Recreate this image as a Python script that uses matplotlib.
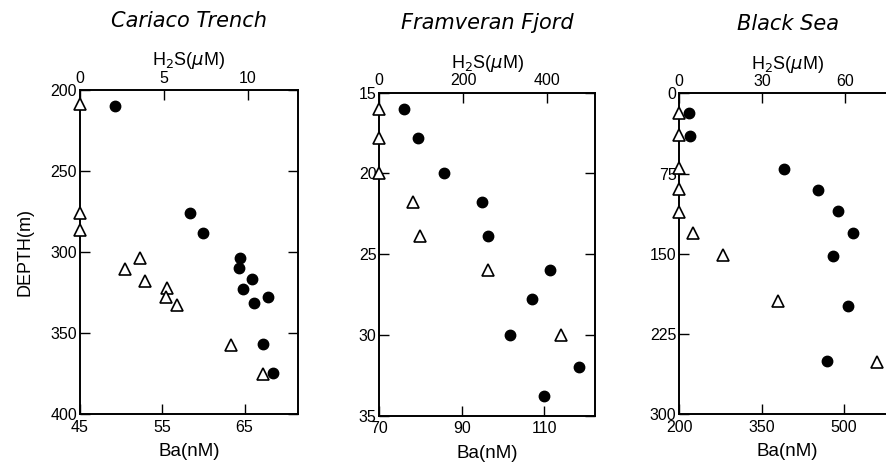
import matplotlib
matplotlib.use('Agg')
import matplotlib.pyplot as plt

plt.rcParams['font.family'] = ['Liberation Sans', 'DejaVu Sans']

######    data
titles = ['Cariaco Trench', 'Framveran Fjord', 'Black Sea']

# Cariaco Trench
cariaco_ba_depth = [210, 276, 288.5, 303.5, 310, 316.7, 322.8, 327.6, 331.7, 356.8, 374.9]
cariaco_ba = [49.3, 58.4, 59.9, 64.4, 64.3, 65.9, 64.8, 67.8, 66.1, 67.3, 68.4]
cariaco_h2s_depth = [209, 276, 286.5, 303.5, 310.5, 318, 322, 327.6, 332.7, 357.4, 375]
cariaco_h2s = [0, 0, 0, 3.6, 2.7, 3.9, 5.2, 5.1, 5.8, 9.0, 10.9]

# Framveran Fjord
fjord_ba_depth = [16, 17.8, 20, 21.8, 23.9, 26, 27.8, 30, 32, 33.8]
fjord_ba = [76.1, 79.3, 85.8, 95.0, 96.3, 111.3, 107.0, 101.8, 118.3, 109.9]
fjord_h2s_depth = [16, 17.8, 20, 21.8, 23.9, 26, 30]
fjord_h2s = [0, 0, 0, 81, 97, 259, 434]

# Black Sea
black_ba_depth = [18.7, 39.6, 70.7, 90.4, 109.7, 130.8, 151.8, 198.5, 250]
black_ba = [217.7, 219, 391, 452, 489.6, 517, 480.5, 507.8, 469.6]
black_h2s_depth = [18.7, 39, 70, 89.4, 110.6, 130.8, 151, 194, 250.8]
black_h2s = [0, 0, 0, 0, 0, 4.9, 15.9, 35.9, 71.7]

ba_ticks = [[45, 55, 65], [70, 90, 110], [200, 350, 500]]
h2s_ticks = [[0, 5, 10], [0, 200, 400], [0, 30, 60]]
depth_ticks = [[200, 250, 300, 350, 400], [15, 20, 25, 30, 35], [0, 75, 150, 225, 300]]

ba_lim = [(45, 71.5), (70, 122.3), (200, 595)]
h2s_lim = [(0, 13), (0, 515), (0, 78.5)]
depth_lim = [(400, 200), (35, 15), (300, 0)]

ba_data = [(cariaco_ba, cariaco_ba_depth), (fjord_ba, fjord_ba_depth), (black_ba, black_ba_depth)]
h2s_data = [(cariaco_h2s, cariaco_h2s_depth), (fjord_h2s, fjord_h2s_depth), (black_h2s, black_h2s_depth)]

boxes = [[0.0902, 0.1058, 0.2458, 0.700],
         [0.4276, 0.1020, 0.2432, 0.698],
         [0.7658, 0.1052, 0.2445, 0.693]]

fig = plt.figure(figsize=(8.87, 4.63), dpi=100)

for i in range(3):
    ax = fig.add_axes(boxes[i])
    ax.set_xlim(*ba_lim[i])
    ax.set_ylim(*depth_lim[i])
    ax.set_xticks(ba_ticks[i])
    ax.set_yticks(depth_ticks[i])
    ax.tick_params(direction='in', length=7, width=1, labelsize=11.5,
                   right=True)
    ax.tick_params(axis='x', pad=4)
    ax.tick_params(axis='y', pad=2)
    for s in ax.spines.values():
        s.set_linewidth(1.2)

    ax2 = ax.twiny()
    ax2.set_xlim(*h2s_lim[i])
    ax2.set_xticks(h2s_ticks[i])
    ax2.tick_params(direction='in', length=7, width=1, labelsize=11.5, pad=3)
    for s in ax2.spines.values():
        s.set_linewidth(1.2)

    x, y = ba_data[i]
    ax.plot(x, y, 'o', color='black', markersize=7.5, clip_on=False, zorder=5)
    x, y = h2s_data[i]
    ax2.plot(x, y, '^', markerfacecolor='white', markeredgecolor='black',
             markeredgewidth=1.2, markersize=9, clip_on=False, zorder=5)

    ax.set_xlabel('Ba(nM)', fontsize=13.5, labelpad=6)
    ax2.set_xlabel(r'H$_2$S($\mu$M)', fontsize=13, labelpad=4)
    ax2.set_title(titles[i], fontsize=15, style='italic', family='DejaVu Sans',
                  pad=17)
    if i == 0:
        ax.set_ylabel('DEPTH(m)', fontsize=13, labelpad=12)

fig.savefig('out.png', dpi=100)
